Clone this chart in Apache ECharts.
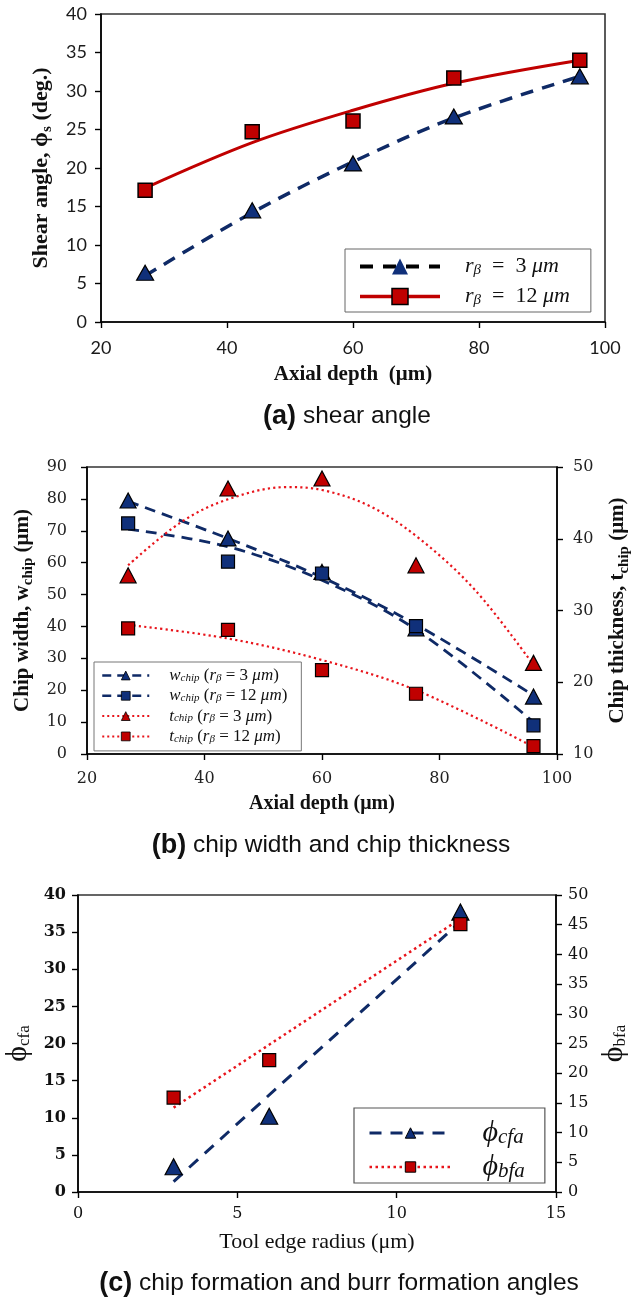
<!DOCTYPE html>
<html>
<head>
<meta charset="utf-8">
<script src="https://cdn.jsdelivr.net/npm/echarts@6/dist/echarts.min.js"></script>
<style>
  html, body { margin: 0; padding: 0; background: #ffffff; }
  #chart { width: 634px; height: 1300px; }
</style>
</head>
<body>
<div id="chart"></div>
<script>
// ---- shared x positions (axial depth, µm) ----
const axialDepth = [27, 44, 60, 76, 96];
const depthTicks = { min: 20, max: 100, interval: 20 };

// ---- (a) shear angle (deg.) ----
const shearR3 = [6.4, 14.5, 20.6, 26.7, 31.9];
const shearR12 = [17.1, 24.7, 26.1, 31.7, 34.0];
const shearTrendR3 = [[27, 6.0], [44, 14.2], [60, 20.8], [76, 26.5], [96, 31.9]];
const shearTrendR12 = [[27, 17.4], [44, 23.3], [60, 27.5], [76, 31.0], [96, 34.0]];

// ---- (b) chip width (left axis) and chip thickness (right axis), µm ----
const widthR3 = [79.5, 67.6, 57.1, 39.4, 18.0];
const widthR12 = [72.3, 60.3, 56.6, 40.1, 9.0];
const thickR3 = [34.9, 47.0, 48.4, 36.3, 22.7];
const thickR12 = [27.5, 27.3, 21.7, 18.4, 11.1];
const widthTrendR3 = [[27, 79.2], [44, 67.6], [60, 55.4], [76, 40.6], [96, 18.4]];
const widthTrendR12 = [[27, 70.5], [44, 65.0], [60, 54.5], [76, 39.0], [96, 10.0]];
const thickTrendR3 = [[27, 36.3], [36, 42.3], [44, 45.5], [54, 47.2], [60, 46.8], [68, 44.6], [76, 40.4], [86, 32.9], [96, 22.4]];
const thickTrendR12 = [[27, 28.0], [44, 26.1], [60, 23.1], [76, 18.9], [96, 11.0]];

// ---- (c) chip / burr formation angles vs tool edge radius ----
const edgeRadius = [3, 6, 12];
const cfaAngle = [3.4, 10.2, 37.7];
const bfaAngle = [15.9, 22.2, 45.1];
const cfaTrend = [[3, 1.4], [12, 36.4]];
const bfaTrend = [[3, 14.2], [12, 46.0]];

// ---- styling ----
const NAVY = '#10307a';
const NAVY_LINE = '#0f2a66';
const RED = '#c00000';
const RED_DOT = '#e8141b';
const SERIF = '"Liberation Serif", "DejaVu Serif", serif';
const SERIF_TICK = '"DejaVu Serif", "Liberation Serif", serif';
const SANS_TICK = 'Lato, "Open Sans", sans-serif';
const CAPTION = '"Liberation Sans", Arial, sans-serif';

const pairs = (xs, ys) => xs.map((x, i) => [x, ys[i]]);

const axisLine = { show: true, onZero: false, lineStyle: { color: '#000', width: 1.6 } };
const axisTick = { show: true, inside: false, length: 6, lineStyle: { color: '#000', width: 1.4 } };

function valueAxis(o) {
  return Object.assign({
    type: 'value',
    axisLine: axisLine,
    axisTick: axisTick,
    splitLine: { show: false },
    nameLocation: 'middle'
  }, o);
}

// rich styles for axis titles with subscripts
const titleRich = (size, psize, weight) => ({
  t: { fontFamily: SERIF, fontSize: size, fontWeight: weight, color: '#111', lineHeight: psize + 4 },
  p: { fontFamily: SERIF, fontSize: psize, fontWeight: weight, color: '#111', lineHeight: psize + 4 },
  s: { fontFamily: SERIF, fontSize: Math.round(size * 0.7), fontWeight: weight, color: '#111', lineHeight: Math.round(size * 0.7), padding: [Math.round(size * 0.55), 0, 0, 0] }
});

const legendNames = {
  a3: 'rβ = 3 μm', a12: 'rβ = 12 μm',
  bw3: 'wchip (rβ = 3 μm)', bw12: 'wchip (rβ = 12 μm)',
  bt3: 'tchip (rβ = 3 μm)', bt12: 'tchip (rβ = 12 μm)',
  cc: 'ϕcfa', cb: 'ϕbfa'
};

const legendRich = {
  [legendNames.a3]: '{g| }{i|r}{s|β}{n|  =  3 }{i|μm}',
  [legendNames.a12]: '{g| }{i|r}{s|β}{n|  =  12 }{i|μm}',
  [legendNames.bw3]: '{g| }{i|w}{s|chip}{n| (}{i|r}{s|β}{n| = 3 }{i|μm}{n|)}',
  [legendNames.bw12]: '{g| }{i|w}{s|chip}{n| (}{i|r}{s|β}{n| = 12 }{i|μm}{n|)}',
  [legendNames.bt3]: '{g| }{i|t}{s|chip}{n| (}{i|r}{s|β}{n| = 3 }{i|μm}{n|)}',
  [legendNames.bt12]: '{g| }{i|t}{s|chip}{n| (}{i|r}{s|β}{n| = 12 }{i|μm}{n|)}',
  [legendNames.cc]: '{g| }{i|ϕ}{s|cfa}',
  [legendNames.cb]: '{g| }{i|ϕ}{s|bfa}'
};

// size: main text; sub: subscript size; gap: icon-to-text gap; drop: subscript lowering; lh: line height
const legendText = (size, sub, gap, drop, lh) => ({
  color: '#111',
  rich: {
    g: { width: gap, fontSize: size, lineHeight: lh },
    i: { fontFamily: SERIF, fontStyle: 'italic', fontSize: size, color: '#111', lineHeight: lh },
    n: { fontFamily: SERIF, fontSize: size, color: '#111', lineHeight: lh },
    s: { fontFamily: SERIF, fontStyle: 'italic', fontSize: sub, color: '#111', lineHeight: lh - drop, padding: [drop, 0, 0, 0] }
  }
});

const caption = (left, top, tag, text) => ({
  left: left, top: top, textAlign: 'center',
  text: '{b|' + tag + '}{n| ' + text + '}',
  textStyle: {
    rich: {
      b: { fontFamily: CAPTION, fontWeight: 'bold', fontSize: 27, color: '#111' },
      n: { fontFamily: CAPTION, fontWeight: 'normal', fontSize: 24.5, color: '#111' }
    }
  }
});

const option = {
  animation: false,
  backgroundColor: '#ffffff',
  title: [
    caption(342, 398, '(a)', 'shear angle'),
    caption(326, 827, '(b)', 'chip width and chip thickness'),
    caption(334, 1265, '(c)', 'chip formation and burr formation angles')
  ],
  grid: [
    { left: 101, right: 29, top: 14, height: 308, show: true, borderColor: '#333', borderWidth: 1.6, outerBoundsMode: 'none' },
    { left: 87, right: 77, top: 467, height: 287, show: true, borderColor: '#333', borderWidth: 1.6, outerBoundsMode: 'none' },
    { left: 78, right: 78, top: 895, height: 297, show: true, borderColor: '#333', borderWidth: 1.6, outerBoundsMode: 'none' }
  ],
  xAxis: [
    valueAxis({
      gridIndex: 0, min: depthTicks.min, max: depthTicks.max, interval: depthTicks.interval,
      axisLabel: { margin: 17, fontFamily: SANS_TICK, fontSize: 18, color: '#1a1a1a' },
      name: 'Axial depth  (μm)', nameGap: 42,
      nameTextStyle: { fontFamily: SERIF, fontWeight: 'bold', fontSize: 21, color: '#111' }
    }),
    valueAxis({
      gridIndex: 1, min: depthTicks.min, max: depthTicks.max, interval: depthTicks.interval,
      axisLabel: { margin: 17, fontFamily: SERIF_TICK, fontSize: 16, color: '#222' },
      name: 'Axial depth (μm)', nameGap: 40,
      nameTextStyle: { fontFamily: SERIF, fontWeight: 'bold', fontSize: 20, color: '#111' }
    }),
    valueAxis({
      gridIndex: 2, min: 0, max: 15, interval: 5,
      axisLabel: { margin: 14, fontFamily: SERIF_TICK, fontSize: 16, color: '#111' },
      name: 'Tool edge radius (μm)', nameGap: 39,
      nameTextStyle: { fontFamily: SERIF, fontSize: 22, color: '#111' }
    })
  ],
  yAxis: [
    valueAxis({
      gridIndex: 0, min: 0, max: 40, interval: 5,
      axisLabel: { margin: 14, fontFamily: SANS_TICK, fontSize: 18, color: '#1a1a1a' },
      name: '{t|Shear angle, }{p|ϕ}{s|s}{t| (deg.)}', nameGap: 46, nameRotate: 90,
      nameTextStyle: { rich: titleRich(22, 24, 'bold') }
    }),
    valueAxis({
      gridIndex: 1, position: 'left', min: 0, max: 90, interval: 10,
      axisLabel: { margin: 20, fontFamily: SERIF_TICK, fontSize: 16, color: '#222' },
      name: '{t|Chip width, w}{s|chip}{t| (μm)}', nameGap: 44, nameRotate: 90,
      nameTextStyle: { rich: titleRich(21, 21, 'bold') }
    }),
    valueAxis({
      gridIndex: 1, position: 'right', min: 10, max: 50, interval: 10,
      axisLabel: { margin: 16, fontFamily: SERIF_TICK, fontSize: 16, color: '#222' },
      name: '{t|Chip thickness, t}{s|chip}{t| (μm)}', nameGap: 45, nameRotate: 90,
      nameTextStyle: { rich: titleRich(21, 21, 'bold') }
    }),
    valueAxis({
      gridIndex: 2, position: 'left', min: 0, max: 40, interval: 5,
      axisLabel: { margin: 12, fontFamily: SERIF_TICK, fontSize: 16, fontWeight: 'bold', color: '#111' },
      name: '{p|ϕ}{s|cfa}', nameGap: 35, nameRotate: 90,
      nameTextStyle: { rich: titleRich(24, 30, 'normal') }
    }),
    valueAxis({
      gridIndex: 2, position: 'right', min: 0, max: 50, interval: 5,
      axisLabel: { margin: 12, fontFamily: SERIF_TICK, fontSize: 16, color: '#111' },
      name: '{p|ϕ}{s|bfa}', nameGap: 33, nameRotate: 90,
      nameTextStyle: { rich: titleRich(24, 30, 'normal') }
    })
  ],
  legend: [
    {
      orient: 'vertical', left: 345, top: 249,
      padding: [6, 21, 4, 13], itemGap: 7, itemWidth: 80, itemHeight: 20,
      borderColor: '#666', borderWidth: 1, backgroundColor: '#fff',
      formatter: n => legendRich[n],
      textStyle: legendText(22, 15, 20, 8, 20),
      data: [
        { name: legendNames.a3, lineStyle: { color: '#000', width: 4, type: [13, 10] }, itemStyle: { color: NAVY, borderColor: NAVY, borderWidth: 0 } },
        { name: legendNames.a12, lineStyle: { color: RED, width: 3.5, type: 'solid' }, itemStyle: { color: RED, borderColor: '#000', borderWidth: 1.5 } }
      ]
    },
    {
      orient: 'vertical', left: 94, top: 662,
      padding: [5, 14, 6, 7], itemGap: 3.3, itemWidth: 47, itemHeight: 11,
      borderColor: '#777', borderWidth: 1, backgroundColor: '#fff',
      formatter: n => legendRich[n],
      textStyle: legendText(17, 11, 15, 5, 17),
      data: [
        { name: legendNames.bw3, lineStyle: { color: NAVY_LINE, width: 2.5, type: [9, 6] }, itemStyle: { color: NAVY, borderColor: '#000', borderWidth: 0.8 } },
        { name: legendNames.bw12, lineStyle: { color: NAVY_LINE, width: 2.5, type: [9, 6] }, itemStyle: { color: NAVY, borderColor: '#000', borderWidth: 0.8 } },
        { name: legendNames.bt3, lineStyle: { color: RED_DOT, width: 2, type: [2, 3] }, itemStyle: { color: RED, borderColor: '#000', borderWidth: 0.8 } },
        { name: legendNames.bt12, lineStyle: { color: RED_DOT, width: 2, type: [2, 3] }, itemStyle: { color: RED, borderColor: '#000', borderWidth: 0.8 } }
      ]
    },
    {
      orient: 'vertical', left: 354, top: 1108,
      padding: [10, 20, 1, 14], itemGap: 4, itemWidth: 82, itemHeight: 13,
      borderColor: '#555', borderWidth: 1.2, backgroundColor: '#fff',
      formatter: n => legendRich[n],
      textStyle: legendText(30, 21, 26, 9, 30),
      data: [
        { name: legendNames.cc, lineStyle: { color: NAVY_LINE, width: 3, type: [12, 9] }, itemStyle: { color: NAVY, borderColor: '#000', borderWidth: 1 } },
        { name: legendNames.cb, lineStyle: { color: RED_DOT, width: 2.5, type: [2.5, 3.5] }, itemStyle: { color: RED, borderColor: '#000', borderWidth: 1 } }
      ]
    }
  ],
  series: [
    // (a) trend curves
    {
      name: legendNames.a3, type: 'line', xAxisIndex: 0, yAxisIndex: 0, data: shearTrendR3,
      smooth: 0.35, showSymbol: false, symbol: 'triangle', silent: true,
      lineStyle: { color: NAVY_LINE, width: 3.5, type: [13, 9] },
      itemStyle: { color: NAVY, borderColor: '#000', borderWidth: 1 }, z: 2
    },
    {
      name: legendNames.a12, type: 'line', xAxisIndex: 0, yAxisIndex: 0, data: shearTrendR12,
      smooth: 0.35, showSymbol: false, symbol: 'rect', silent: true,
      lineStyle: { color: RED, width: 3, type: 'solid' },
      itemStyle: { color: RED, borderColor: '#000', borderWidth: 1 }, z: 2
    },
    // (a) measured points
    {
      name: 'shear r3', type: 'scatter', xAxisIndex: 0, yAxisIndex: 0, data: pairs(axialDepth, shearR3),
      symbol: 'triangle', symbolSize: [17, 15], itemStyle: { color: NAVY, borderColor: '#000', borderWidth: 1.2, opacity: 1 }, z: 3
    },
    {
      name: 'shear r12', type: 'scatter', xAxisIndex: 0, yAxisIndex: 0, data: pairs(axialDepth, shearR12),
      symbol: 'rect', symbolSize: 14, itemStyle: { color: RED, borderColor: '#000', borderWidth: 1.5, opacity: 1 }, z: 4
    },

    // (b) trend curves
    {
      name: legendNames.bw3, type: 'line', xAxisIndex: 1, yAxisIndex: 1, data: widthTrendR3,
      smooth: 0.35, showSymbol: false, symbol: 'triangle', silent: true,
      lineStyle: { color: NAVY_LINE, width: 2.8, type: [11, 7] },
      itemStyle: { color: NAVY, borderColor: '#000', borderWidth: 1 }, z: 2
    },
    {
      name: legendNames.bw12, type: 'line', xAxisIndex: 1, yAxisIndex: 1, data: widthTrendR12,
      smooth: 0.35, showSymbol: false, symbol: 'rect', silent: true,
      lineStyle: { color: NAVY_LINE, width: 2.8, type: [11, 7] },
      itemStyle: { color: NAVY, borderColor: '#000', borderWidth: 1 }, z: 2
    },
    {
      name: legendNames.bt3, type: 'line', xAxisIndex: 1, yAxisIndex: 2, data: thickTrendR3,
      smooth: 0.35, showSymbol: false, symbol: 'triangle', silent: true,
      lineStyle: { color: RED_DOT, width: 2.2, type: [2.2, 3.2] },
      itemStyle: { color: RED, borderColor: '#000', borderWidth: 1 }, z: 2
    },
    {
      name: legendNames.bt12, type: 'line', xAxisIndex: 1, yAxisIndex: 2, data: thickTrendR12,
      smooth: 0.35, showSymbol: false, symbol: 'rect', silent: true,
      lineStyle: { color: RED_DOT, width: 2.2, type: [2.2, 3.2] },
      itemStyle: { color: RED, borderColor: '#000', borderWidth: 1 }, z: 2
    },
    // (b) measured points
    {
      name: 'width r3', type: 'scatter', xAxisIndex: 1, yAxisIndex: 1, data: pairs(axialDepth, widthR3),
      symbol: 'triangle', symbolSize: [16, 15], itemStyle: { color: NAVY, borderColor: '#000', borderWidth: 1.2, opacity: 1 }, z: 3
    },
    {
      name: 'width r12', type: 'scatter', xAxisIndex: 1, yAxisIndex: 1, data: pairs(axialDepth, widthR12),
      symbol: 'rect', symbolSize: 13, itemStyle: { color: NAVY, borderColor: '#000', borderWidth: 1.2, opacity: 1 }, z: 4
    },
    {
      name: 'thick r3', type: 'scatter', xAxisIndex: 1, yAxisIndex: 2, data: pairs(axialDepth, thickR3),
      symbol: 'triangle', symbolSize: [16, 15], itemStyle: { color: RED, borderColor: '#000', borderWidth: 1.2, opacity: 1 }, z: 3
    },
    {
      name: 'thick r12', type: 'scatter', xAxisIndex: 1, yAxisIndex: 2, data: pairs(axialDepth, thickR12),
      symbol: 'rect', symbolSize: 13, itemStyle: { color: RED, borderColor: '#000', borderWidth: 1.2, opacity: 1 }, z: 4
    },

    // (c) linear trends
    {
      name: legendNames.cc, type: 'line', xAxisIndex: 2, yAxisIndex: 3, data: cfaTrend,
      showSymbol: false, symbol: 'triangle', silent: true,
      lineStyle: { color: NAVY_LINE, width: 3, type: [12, 9] },
      itemStyle: { color: NAVY, borderColor: '#000', borderWidth: 1 }, z: 2
    },
    {
      name: legendNames.cb, type: 'line', xAxisIndex: 2, yAxisIndex: 4, data: bfaTrend,
      showSymbol: false, symbol: 'rect', silent: true,
      lineStyle: { color: RED_DOT, width: 2.5, type: [2.5, 3.5] },
      itemStyle: { color: RED, borderColor: '#000', borderWidth: 1 }, z: 2
    },
    // (c) measured points
    {
      name: 'cfa points', type: 'scatter', xAxisIndex: 2, yAxisIndex: 3, data: pairs(edgeRadius, cfaAngle),
      symbol: 'triangle', symbolSize: [17, 16], itemStyle: { color: NAVY, borderColor: '#000', borderWidth: 1.2, opacity: 1 }, z: 3
    },
    {
      name: 'bfa points', type: 'scatter', xAxisIndex: 2, yAxisIndex: 4, data: pairs(edgeRadius, bfaAngle),
      symbol: 'rect', symbolSize: 13, itemStyle: { color: RED, borderColor: '#000', borderWidth: 1.2, opacity: 1 }, z: 4
    }
  ]
};

const chart = echarts.init(document.getElementById('chart'), null, { renderer: 'canvas' });
chart.setOption(option);
</script>
</body>
</html>
